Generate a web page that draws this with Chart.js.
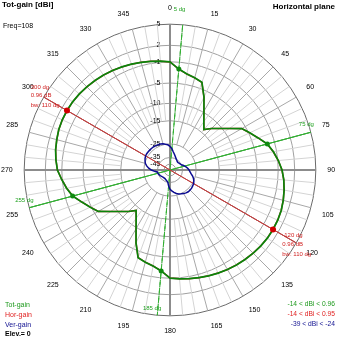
<!DOCTYPE html>
<html><head><meta charset="utf-8">
<script src="https://cdn.jsdelivr.net/npm/chart.js@4/dist/chart.umd.min.js"></script>
<style>
html,body{margin:0;padding:0;background:#fff;}
#wrap{position:relative;width:339px;height:339px;overflow:hidden;font-family:"Liberation Sans",Arial,sans-serif;}
canvas{position:absolute;left:0;top:0;}
.t{position:absolute;white-space:nowrap;line-height:1;}
</style></head><body>
<div id="wrap">
<canvas id="c" width="339" height="339"></canvas>
<div class="t" style="left:2px;top:1px;font-size:8px;font-weight:bold;color:#000;">Tot-gain [dBi]</div>
<div class="t" style="left:3px;top:22px;font-size:7px;color:#000;">Freq=108</div>
<div class="t" style="right:4px;top:3px;font-size:8px;font-weight:bold;color:#000;">Horizontal plane</div>
<div class="t" style="left:5px;top:300.5px;font-size:7px;color:#1e9a1e;">Tot-gain</div>
<div class="t" style="left:5px;top:310.5px;font-size:7px;color:#e02020;">Hor-gain</div>
<div class="t" style="left:5px;top:320.5px;font-size:7px;color:#101090;">Ver-gain</div>
<div class="t" style="left:5px;top:329.5px;font-size:7px;font-weight:bold;color:#000;">Elev.= 0</div>
<div class="t" style="right:4px;top:300.5px;font-size:6.7px;color:#1e9a1e;">-14 &lt; dBi &lt; 0.96</div>
<div class="t" style="right:4px;top:310.5px;font-size:6.7px;color:#e02020;">-14 &lt; dBi &lt; 0.95</div>
<div class="t" style="right:4px;top:320.5px;font-size:6.7px;color:#101090;">-39 &lt; dBi &lt; -24</div>
</div>
<script>
// ---- data (compass angle, 0 = north, clockwise) ----
const angleLabels = ['0','5','10','15','20','25','30','35','40','45','50','55','60','65','70','75','80','85',
 '90','95','100','105','110','115','120','125','130','135','140','145','150','155','160','165','170','175',
 '180','185','190','195','200','205','210','215','220','225','230','235','240','245','250','255','260','265',
 '270','275','280','285','290','295','300','305','310','315','320','325','330','335','340','345','350','355'];

const totGain = [-1.0,-2.3,-3.0,-3.4,-3.8,-6.6,-9.7,-12.2,-14.0,-12.3,-10.6,-8.6,-6.0,-4.8,-3.7,-2.4,-1.6,-0.9,
 -0.3,0.1,0.4,0.65,0.85,0.94,0.96,0.94,0.85,0.72,0.56,0.4,0.22,0.02,-0.18,-0.4,-0.6,-0.8,
 -1.0,-2.3,-3.0,-3.4,-3.8,-6.6,-9.7,-12.2,-14.0,-12.3,-10.6,-8.6,-6.0,-4.8,-3.7,-2.4,-1.6,-0.9,
 -0.2,0.15,0.45,0.65,0.85,0.94,0.96,0.94,0.85,0.72,0.56,0.4,0.22,0.02,-0.18,-0.4,-0.6,-0.8];

const horGain = [-1.02,-2.32,-3.02,-3.42,-3.82,-6.62,-9.72,-12.22,-14.0,-12.32,-10.62,-8.62,-6.02,-4.82,-3.72,-2.42,-1.62,-0.92,
 -0.31,0.09,0.39,0.64,0.84,0.93,0.95,0.93,0.84,0.71,0.55,0.39,0.21,0.01,-0.19,-0.41,-0.61,-0.81,
 -1.02,-2.32,-3.02,-3.42,-3.82,-6.62,-9.72,-12.22,-14.0,-12.32,-10.62,-8.62,-6.02,-4.82,-3.72,-2.42,-1.62,-0.92,
 -0.21,0.14,0.44,0.64,0.84,0.93,0.95,0.93,0.84,0.71,0.55,0.39,0.21,0.01,-0.19,-0.41,-0.61,-0.81];

const verGain = [-26.8,-28.5,-30.6,-32.0,-33.2,-34.2,-35.0,-36.0,-37.0,-37.5,-37.2,-36.5,-35.8,-35.0,-34.0,-33.0,-32.0,-31.0,
 -30.2,-29.5,-28.5,-27.0,-25.8,-24.9,-24.5,-24.3,-24.1,-24.0,-24.0,-24.2,-24.5,-24.9,-25.4,-26.3,-27.5,-28.8,
 -30.0,-32.5,-35.0,-36.5,-37.5,-38.3,-38.8,-39.0,-39.0,-38.8,-38.3,-37.7,-37.0,-36.3,-35.6,-35.0,-34.9,-33.0,
 -30.5,-28.5,-26.8,-25.4,-24.8,-24.4,-24.1,-24.0,-24.0,-24.0,-24.0,-24.0,-24.1,-24.2,-24.3,-24.5,-25.0,-25.6];

const ringTicksDb = [5, 2, -1, -5, -10, -15, -25, -35, -45];
const tickLabels  = ['5','2','-1','-5','-10','-15','-25','-35','-45'];

const maxDirections = [120, 300];          // red marker line (max gain)
const maxGainDb = 0.96;
const beamEdgeSolid = [75, 255];           // green solid line
const beamEdgeDashed = [5, 185];           // green dashed line
const beamEdgeSolidDb = [-2.4, -2.4];
const beamEdgeDashedDb = [-2.3, -2.3];

// ---- log-like radial scale of the plot (dB -> fraction of radius) ----
const scaleDb   = [5, 2, -1, -5, -10, -15, -25, -35, -45, -55];
const scaleFrac = [1, 0.855, 0.742, 0.596, 0.457, 0.338, 0.179, 0.086, 0.04, 0];
function toR(db) {
  if (db >= scaleDb[0]) return 1;
  for (let i = 0; i < scaleDb.length - 1; i++) {
    if (db <= scaleDb[i] && db >= scaleDb[i + 1]) {
      const t = (scaleDb[i] - db) / (scaleDb[i] - scaleDb[i + 1]);
      return scaleFrac[i] + t * (scaleFrac[i + 1] - scaleFrac[i]);
    }
  }
  return 0;
}

const N = angleLabels.length;
const idx = a => Math.round(a / 5);
function sparse(pairs) {
  const arr = new Array(N).fill(null);
  pairs.forEach(([a, v]) => { arr[idx(a)] = v; });
  return arr;
}

const ticksAsc = ringTicksDb.map((d, i) => ({ db: d, label: tickLabels[i] })).reverse();

// measure for tick label offset (labels sit left of the 0-axis)
const mctx = document.createElement('canvas').getContext('2d');
mctx.font = '7px "Liberation Sans", Arial, sans-serif';
const nbspW = mctx.measureText('\u00A0').width || 2;
function padLabel(s) {
  const w = mctx.measureText(s).width;
  const n = Math.max(0, Math.round((20 + w) / nbspW));
  return s + '\u00A0'.repeat(n);
}

const spokePlugin = {
  id: 'spokes',
  beforeDatasetsDraw(chart) {
    const s = chart.scales.r;
    const ctx = chart.ctx;
    ctx.save();
    for (let i = 0; i < N; i++) {
      const a = i * 5;
      let from, color, w;
      if (a % 90 === 0) { from = 0; color = '#8c8c8c'; w = 2; }
      else if (a % 15 === 0) { from = toR(-25); color = '#a8a8a8'; w = 1; }
      else { from = toR(-15); color = '#d4d4d4'; w = 1; }
      const p0 = s.getPointPositionForValue(i, from);
      const p1 = s.getPointPositionForValue(i, 1);
      ctx.strokeStyle = color; ctx.lineWidth = w;
      ctx.beginPath(); ctx.moveTo(p0.x, p0.y); ctx.lineTo(p1.x, p1.y); ctx.stroke();
    }
    ctx.restore();
  }
};

const notes = [
  { a: 300, dx: -13, dy: -9.5, t: '300 dg', c: '#d02020', al: 'left' },
  { a: 300, dx: -13, dy: -1.5, t: '0.96 dB', c: '#d02020', al: 'left' },
  { a: 300, dx: -13, dy: 8.5, t: 'bw: 110 dg', c: '#d02020', al: 'left' },
  { a: 120, dx: -12, dy: -7.5, t: '120 dg', c: '#d02020', al: 'left' },
  { a: 120, dx: -14, dy: 1.5, t: '0.96 dB', c: '#d02020', al: 'left' },
  { a: 120, dx: -14, dy: 11.5, t: 'bw: 110 dg', c: '#d02020', al: 'left' },
  { a: 75, dx: 3, dy: -8, t: '75 dg', c: '#20a020', al: 'right' },
  { a: 255, dx: -14, dy: -7, t: '255 dg', c: '#20a020', al: 'left' },
  { a: 5, dx: -9, dy: -15.5, t: '5 dg', c: '#20a020', al: 'left' },
  { a: 185, dx: 4, dy: -7, t: '185 dg', c: '#20a020', al: 'right' }
];
const notePlugin = {
  id: 'notes',
  afterDatasetsDraw(chart) {
    const s = chart.scales.r;
    const ctx = chart.ctx;
    ctx.save();
    ctx.font = '6px "Liberation Sans", Arial, sans-serif';
    ctx.textBaseline = 'middle';
    notes.forEach(n => {
      const p = s.getPointPositionForValue(idx(n.a), 1);
      ctx.fillStyle = n.c; ctx.textAlign = n.al;
      ctx.fillText(n.t, p.x + n.dx, p.y + n.dy);
    });
    ctx.restore();
  }
};

new Chart(document.getElementById('c'), {
  type: 'radar',
  data: {
    labels: angleLabels,
    datasets: [
      { label: 'max', data: sparse(maxDirections.map(a => [a, toR(maxGainDb)])), showLine: false,
        pointRadius: 3, pointBackgroundColor: '#d00000', pointBorderColor: '#d00000', pointBorderWidth: 0, fill: false },
      { label: 'edges', data: sparse(beamEdgeSolid.map((a, i) => [a, toR(beamEdgeSolidDb[i])]).concat(beamEdgeDashed.map((a, i) => [a, toR(beamEdgeDashedDb[i])]))),
        showLine: false, pointRadius: 2.5, pointBackgroundColor: '#108a10', pointBorderColor: '#108a10', pointBorderWidth: 0, fill: false },
      { label: 'Tot-gain', data: totGain.map(toR), borderColor: '#0a850a', borderWidth: 1.7, pointRadius: 0, fill: false, tension: 0 },
      { label: 'Hor-gain', data: horGain.map(toR), borderColor: '#c03030', borderWidth: 1.5, pointRadius: 0, fill: false, tension: 0 },
      { label: 'Ver-gain', data: verGain.map(toR), borderColor: '#0a0a90', borderWidth: 1.5, pointRadius: 0, fill: false, tension: 0 },
      { label: 'maxline', data: sparse(maxDirections.map(a => [a, toR(5)])), spanGaps: true, borderColor: '#c04040', borderWidth: 1, pointRadius: 0, fill: false },
      { label: 'edgeline', data: sparse(beamEdgeSolid.map(a => [a, toR(5)])), spanGaps: true, borderColor: '#30b030', borderWidth: 1, pointRadius: 0, fill: false },
      { label: 'edgedash', data: sparse(beamEdgeDashed.map(a => [a, toR(5)])), spanGaps: true, borderColor: '#30b030', borderWidth: 1, borderDash: [5, 3], pointRadius: 0, fill: false }
    ]
  },
  options: {
    responsive: false,
    devicePixelRatio: 1,
    animation: false,
    layout: { padding: { top: 1, right: 1 } },
    plugins: { legend: { display: false }, tooltip: { enabled: false } },
    scales: {
      r: {
        min: 0, max: 1,
        startAngle: 0,
        angleLines: { display: false },
        grid: { circular: true, color: ctx => (ctx.index === ringTicksDb.length ? '#6a6a6a' : '#a0a0a0'), lineWidth: 1 },
        afterBuildTicks: axis => {
          axis.ticks = [{ value: 0 }].concat(ticksAsc.map(t => ({ value: toR(t.db) })));
        },
        ticks: {
          display: true,
          showLabelBackdrop: false,
          color: '#000',
          font: { size: 7, family: '"Liberation Sans", Arial, sans-serif' },
          callback: (v, i) => (i === 0 ? '' : padLabel(ticksAsc[i - 1].label))
        },
        pointLabels: {
          display: true,
          padding: 6,
          color: '#000',
          font: { size: 7, family: '"Liberation Sans", Arial, sans-serif' },
          callback: (label, i) => (i % 3 === 0 ? label : '')
        }
      }
    }
  },
  plugins: [spokePlugin, notePlugin]
});
</script>
</body></html>
